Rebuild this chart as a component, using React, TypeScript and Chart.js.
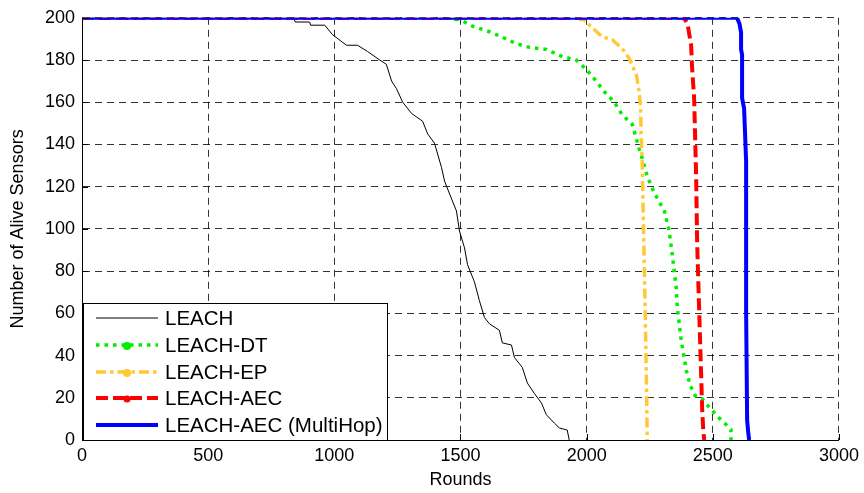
import React, { useEffect, useRef } from 'react';
import { Chart, registerables } from 'chart.js';
Chart.register(...registerables);

// ---- Data ----
const leachRounds = [0, 839, 845, 902, 906, 962, 993, 1048, 1092, 1132, 1180, 1206, 1227, 1246, 1271, 1306, 1350, 1370, 1397, 1425, 1437, 1457, 1484, 1496, 1516, 1528, 1555, 1575, 1595, 1615, 1654, 1666, 1702, 1714, 1745, 1765, 1793, 1821, 1840, 1872, 1892, 1923, 1931];
const leachAlive = [200, 200, 198, 198, 196.5, 196.5, 192, 187, 187, 184, 180, 178, 170, 166.5, 160, 154.7, 151, 145, 140.6, 129, 122.6, 116.5, 108.5, 99, 91, 83, 75, 66, 58, 55, 52, 46, 45, 39, 34.4, 27, 22, 17.5, 12, 8, 5.7, 4.7, 0];

const dtRounds = [0, 1484, 1548, 1615, 1662, 1722, 1773, 1840, 1904, 1959, 1999, 2038, 2070, 2110, 2141, 2181, 2208, 2220, 2240, 2268, 2308, 2327, 2339, 2355, 2359, 2375, 2395, 2410, 2430, 2458, 2485, 2525, 2560, 2572, 2572];
const dtAlive = [200, 200, 196, 193.4, 191, 187.7, 186, 185, 181.6, 180, 175.5, 170, 165, 160, 154, 149.5, 138, 133.5, 125, 117, 108.5, 99, 88, 72, 63, 47, 33, 26, 21, 19.5, 15.6, 10.4, 6.5, 5, 0];

const epRounds = [0, 1979, 2000, 2011, 2062, 2102, 2141, 2169, 2197, 2208, 2214, 2216, 2220, 2224, 2232, 2238, 2240];
const epAlive = [200, 200, 198, 196.5, 191, 189.6, 185.4, 180.7, 173, 165, 157, 145, 132, 108.5, 61, 20, 0];

const aecRounds = [0, 2387, 2400, 2414, 2418, 2426, 2434, 2438, 2446, 2454, 2458, 2462, 2466];
const aecAlive = [200, 200, 197, 187, 176, 162, 124, 93, 61, 30, 14, 5, 0];

const mhRounds = [0, 2596, 2606, 2612, 2612, 2616, 2616, 2624, 2632, 2632, 2636, 2640, 2644];
const mhAlive = [200, 200, 197, 193, 185, 182.5, 162, 157, 132, 61, 9.4, 4, 0];

const xTicks = [0, 500, 1000, 1500, 2000, 2500, 3000];
const yTicks = [0, 20, 40, 60, 80, 100, 120, 140, 160, 180, 200];

const seriesNames = ['LEACH', 'LEACH-DT', 'LEACH-EP', 'LEACH-AEC', 'LEACH-AEC (MultiHop)'];
const xTitle = 'Rounds';
const yTitle = 'Number of Alive Sensors';

const FONT = "'Liberation Sans', Arial, sans-serif";

const toPts = (xs: number[], ys: number[]) => xs.map((x, i) => ({ x, y: ys[i] }));

const styles = [
  { color: '#000000', width: 1, dash: [] as number[], marker: 0 },
  { color: '#00ee00', width: 3.5, dash: [3.5, 5], marker: 4 },
  { color: '#ffc834', width: 3.5, dash: [10, 4, 3.5, 4], marker: 4 },
  { color: '#ff0000', width: 4, dash: [12, 5], marker: 3.5 },
  { color: '#0000ff', width: 4, dash: [] as number[], marker: 0 },
];

const overlay = {
  id: 'matlabOverlay',
  afterDraw(chart: any) {
    const { ctx, chartArea, scales } = chart;
    const xs = scales.x, ys = scales.y;
    ctx.save();
    // inward ticks
    ctx.strokeStyle = '#000';
    ctx.lineWidth = 1;
    ctx.setLineDash([]);
    ctx.beginPath();
    xTicks.forEach((t) => {
      const px = Math.round(xs.getPixelForValue(t)) + 0.5;
      ctx.moveTo(px, chartArea.bottom);
      ctx.lineTo(px, chartArea.bottom - 6);
    });
    yTicks.forEach((t) => {
      const py = Math.round(ys.getPixelForValue(t)) + 0.5;
      ctx.moveTo(chartArea.left, py);
      ctx.lineTo(chartArea.left + 6, py);
    });
    ctx.stroke();

    // axis titles
    ctx.fillStyle = '#000';
    ctx.font = `18px ${FONT}`;
    ctx.textAlign = 'center';
    ctx.textBaseline = 'middle';
    ctx.fillText(xTitle, (chartArea.left + chartArea.right) / 2, 480);
    ctx.save();
    ctx.translate(18, (chartArea.top + chartArea.bottom) / 2);
    ctx.rotate(-Math.PI / 2);
    ctx.fillText(yTitle, 0, 0);
    ctx.restore();

    // legend box
    const bx = chartArea.left + 1, by = 303, bw = 304, bh = chartArea.bottom - by;
    ctx.fillStyle = '#fff';
    ctx.fillRect(bx, by, bw, bh);
    ctx.strokeStyle = '#000';
    ctx.lineWidth = 1;
    ctx.strokeRect(bx + 0.5, by + 0.5, bw, bh);
    const rowY = [318, 345, 372, 398, 425];
    const lx1 = 96, lx2 = 158;
    seriesNames.forEach((name, i) => {
      const s = styles[i];
      const y = rowY[i];
      ctx.strokeStyle = s.color;
      ctx.lineWidth = s.width;
      ctx.setLineDash(s.dash);
      ctx.beginPath();
      ctx.moveTo(lx1, y);
      ctx.lineTo(lx2, y);
      ctx.stroke();
      ctx.setLineDash([]);
      if (s.marker) {
        ctx.fillStyle = s.color;
        ctx.beginPath();
        ctx.arc((lx1 + lx2) / 2, y + 1, s.marker, 0, Math.PI * 2);
        ctx.fill();
      }
      ctx.fillStyle = '#000';
      ctx.font = `20.5px ${FONT}`;
      ctx.textAlign = 'left';
      ctx.textBaseline = 'middle';
      ctx.fillText(name, 165, y + 1);
    });
    ctx.restore();
  },
};

export default function App() {
  const ref = useRef<HTMLCanvasElement>(null);
  useEffect(() => {
    if (!ref.current) return;
    const all = [
      toPts(leachRounds, leachAlive),
      toPts(dtRounds, dtAlive),
      toPts(epRounds, epAlive),
      toPts(aecRounds, aecAlive),
      toPts(mhRounds, mhAlive),
    ];
    const orders = [4, 3, 2, 1, 0];
    const datasets = all.map((data, i) => {
      const s = styles[i];
      return {
        label: seriesNames[i],
        data,
        borderColor: s.color,
        backgroundColor: s.color,
        borderWidth: s.width,
        borderDash: s.dash,
        pointRadius: data.map((_, j) => (s.marker && j === 1 ? s.marker - 0.5 : 0)),
        pointHoverRadius: 0,
        pointBorderWidth: 0,
        tension: 0,
        fill: false,
        order: orders[i],
      };
    });
    const chart = new Chart(ref.current, {
      type: 'line',
      data: { datasets },
      options: {
        animation: false,
        responsive: false,
        maintainAspectRatio: false,
        layout: { padding: { left: 0, top: 16, right: 24, bottom: 0 } },
        plugins: { legend: { display: false }, tooltip: { enabled: false } },
        scales: {
          x: {
            type: 'linear',
            min: 0,
            max: 3000,
            afterBuildTicks: (s: any) => { s.ticks = xTicks.map((v) => ({ value: v })); },
            afterFit: (s: any) => { s.height = 53; },
            ticks: { color: '#000', font: { family: FONT, size: 18 }, padding: 5, maxRotation: 0, callback: (v: any) => String(v) },
            grid: { color: 'rgba(0,0,0,0.8)', lineWidth: 1, drawTicks: false },
            border: { display: true, color: '#000', width: 1, dash: [7, 5] },
          },
          y: {
            type: 'linear',
            min: 0,
            max: 200,
            afterBuildTicks: (s: any) => { s.ticks = yTicks.map((v) => ({ value: v })); },
            afterFit: (s: any) => { s.width = 82; },
            ticks: { color: '#000', font: { family: FONT, size: 18 }, padding: 7, callback: (v: any) => String(v) },
            grid: { color: 'rgba(0,0,0,0.8)', lineWidth: 1, drawTicks: false },
            border: { display: true, color: '#000', width: 1, dash: [7, 5] },
          },
        },
      },
      plugins: [overlay],
    } as any);
    return () => chart.destroy();
  }, []);
  return (
    <div style={{ position: 'absolute', left: 0, top: 0, width: 864, height: 493, background: '#fff' }}>
      <canvas ref={ref} width={864} height={493} style={{ display: 'block' }} />
    </div>
  );
}
